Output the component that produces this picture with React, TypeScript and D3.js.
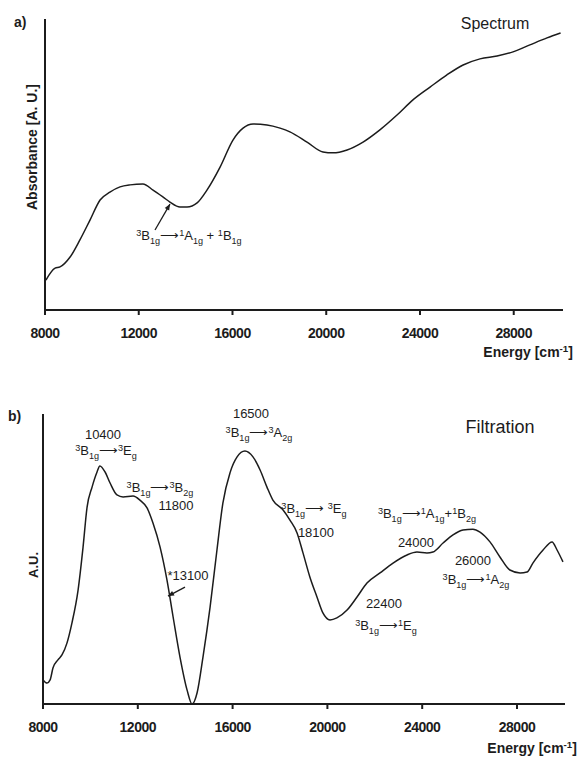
import React from 'react'
import * as d3 from 'd3'

// panel a: spectrum
const energyA = [8040, 8430, 8640, 9070, 9490, 9920, 10350, 10770, 11200, 11630, 12180, 12610, 13040, 13330, 13760, 14060, 14490, 14910, 15470, 16020, 16450, 16880, 17470, 18030, 18450, 19180, 19860, 20290, 20890, 21570, 22290, 23020, 23700, 24430, 25150, 25840, 26560, 27290, 27970, 28690, 29420, 30000]
const absA = [10.3, 14.4, 14.8, 18.2, 24.1, 30.9, 37.8, 40.5, 42.3, 43.0, 43.3, 41.2, 38.8, 37.1, 35.4, 35.4, 36.8, 41.2, 49.1, 58.4, 62.5, 63.9, 63.6, 62.5, 61.2, 57.7, 54.3, 54.0, 55.0, 57.7, 61.9, 67.0, 72.2, 76.6, 80.8, 84.2, 86.3, 87.3, 88.7, 91.1, 93.5, 95.2]

// panel b: filtration
const energyB = [8000, 8170, 8300, 8420, 8630, 8800, 9010, 9220, 9480, 9690, 9860, 10070, 10280, 10400, 10620, 10830, 11120, 11380, 11800, 12090, 12390, 12640, 12940, 13230, 13490, 13780, 14080, 14290, 14500, 14750, 15050, 15340, 15590, 15890, 16190, 16520, 16860, 17160, 17450, 17700, 18130, 18420, 18720, 18970, 19260, 19560, 19810, 20110, 20400, 20830, 21250, 21670, 22220, 22770, 23360, 23780, 24200, 24450, 24880, 25300, 25720, 26140, 26440, 26860, 27280, 27700, 28130, 28420, 28670, 29100, 29480, 29690, 29940]
const absB = [8.3, 7.2, 8.3, 12.4, 15.2, 16.9, 21.0, 27.9, 39.3, 54.1, 67.9, 74.8, 80.0, 82.1, 80.0, 76.2, 72.1, 71.4, 71.7, 70.3, 67.6, 62.4, 54.1, 42.8, 30.0, 16.2, 4.8, 0, 3.8, 16.2, 33.4, 53.1, 69.3, 79.7, 85.2, 87.2, 85.2, 80.7, 74.8, 70.3, 66.9, 63.4, 59.0, 52.1, 43.8, 36.9, 31.4, 29.0, 29.7, 32.4, 36.9, 41.7, 45.2, 48.6, 51.4, 52.4, 52.1, 52.4, 55.5, 58.3, 60.0, 60.3, 59.3, 55.9, 50.7, 46.2, 45.2, 45.5, 48.6, 53.1, 55.9, 53.1, 49.0]

const xTicks = [8000, 12000, 16000, 20000, 24000, 28000]

// annotations: text, energy, value (^{} = superscript, _{} = subscript)
const notesA = [
  { text: 'Spectrum', e: 27200, v: 96.6, size: 16 },
  { text: '^{3}B_{1g}⟶^{1}A_{1g} + ^{1}B_{1g}', e: 14144, v: 24.1, size: 13 },
]
const notesB = [
  { text: 'Filtration', e: 27281, v: 93.4, size: 18 },
  { text: '10400', e: 10531, v: 91.4, size: 13 },
  { text: '^{3}B_{1g}⟶^{3}E_{g}', e: 10658, v: 85.9, size: 13 },
  { text: '^{3}B_{1g}⟶^{3}B_{2g}', e: 12936, v: 73.1, size: 13 },
  { text: '11800', e: 13611, v: 66.9, size: 13 },
  { text: '*13100', e: 14118, v: 42.8, size: 13 },
  { text: '16500', e: 16776, v: 98.6, size: 13 },
  { text: '^{3}B_{1g}⟶^{3}A_{2g}', e: 17113, v: 92.1, size: 13 },
  { text: '^{3}B_{1g}⟶ ^{3}E_{g}', e: 19433, v: 65.9, size: 13 },
  { text: '18100', e: 19518, v: 57.6, size: 13 },
  { text: '^{3}B_{1g}⟶^{1}A_{1g}+^{1}B_{2g}', e: 24201, v: 64.1, size: 13 },
  { text: '24000', e: 23737, v: 54.1, size: 13 },
  { text: '26000', e: 26142, v: 47.9, size: 13 },
  { text: '^{3}B_{1g}⟶^{1}A_{2g}', e: 26268, v: 41.4, size: 13 },
  { text: '22400', e: 22387, v: 33.1, size: 13 },
  { text: '^{3}B_{1g}⟶^{1}E_{g}', e: 22471, v: 25.5, size: 13 },
]
const arrowA = { from: [12694, 27.5], to: [13333, 36.4] }
const arrowB = { from: [13991, 40.3], to: [13274, 37.2] }

const FONT = '"Liberation Sans", Arial, sans-serif'
const INK = '#1c1c1c'

function Rich({ x, y, text, size, anchor = 'middle', weight = 'normal' }: any) {
  const parts: { t: string; k: string }[] = []
  const re = /(\^\{[^}]*\}|_\{[^}]*\}|[^^_]+)/g
  let m
  while ((m = re.exec(text))) {
    const s = m[0]
    if (s.startsWith('^{')) parts.push({ t: s.slice(2, -1), k: 'sup' })
    else if (s.startsWith('_{')) parts.push({ t: s.slice(2, -1), k: 'sub' })
    else parts.push({ t: s, k: 'n' })
  }
  let off = 0
  return (
    <text x={x} y={y} textAnchor={anchor} fontSize={size} fontFamily={FONT} fontWeight={weight} fill={INK}>
      {parts.map((p, i) => {
        const target = p.k === 'sup' ? -0.33 * size : p.k === 'sub' ? 0.3 * size : 0
        const dy = target - off
        off = target
        return (
          <tspan key={i} dy={dy} fontSize={p.k === 'n' ? size : size * 0.7}>{p.t}</tspan>
        )
      })}
    </text>
  )
}

function Panel({ energy, values, notes, arrow, x0, x1, yTop, yBottom, axisEnd, tag, tagX, tagY, yLabel, yLabelX, yLabelY, yLabelSize, energyX, energyY }: any) {
  const x = d3.scaleLinear().domain([8000, 30000]).range([x0, x1])
  const y = d3.scaleLinear().domain([0, 100]).range([yBottom, yTop])
  const line = d3.line<number>()
    .x((_, i) => x(energy[i]))
    .y(d => y(d))
    .curve(d3.curveMonotoneX)
  const ax = x(arrow.from[0]), ay = y(arrow.from[1])
  const bx = x(arrow.to[0]), by = y(arrow.to[1])
  const ang = Math.atan2(by - ay, bx - ax)
  const hl = 6, hw = 2.6
  const head = [
    [bx, by],
    [bx - hl * Math.cos(ang) + hw * Math.sin(ang), by - hl * Math.sin(ang) - hw * Math.cos(ang)],
    [bx - hl * Math.cos(ang) - hw * Math.sin(ang), by - hl * Math.sin(ang) + hw * Math.cos(ang)],
  ]
  return (
    <g>
      <text x={tagX} y={tagY} fontFamily={FONT} fontWeight="bold" fontSize={14} fill={INK}>{tag}</text>
      <line x1={x0} x2={x0} y1={yTop} y2={yBottom + 1} stroke={INK} strokeWidth={2} />
      <line x1={x0 - 1} x2={axisEnd} y1={yBottom} y2={yBottom} stroke={INK} strokeWidth={2} />
      {xTicks.map(t => (
        <g key={t}>
          <line x1={x(t)} x2={x(t)} y1={yBottom} y2={yBottom + 5} stroke={INK} strokeWidth={2} />
          <text x={x(t)} y={yBottom + 28} textAnchor="middle" fontFamily={FONT} fontWeight="bold" fontSize={14} fill={INK} letterSpacing={-0.5}>{t}</text>
        </g>
      ))}
      <text transform={`translate(${yLabelX},${yLabelY}) rotate(-90)`} textAnchor="middle" fontFamily={FONT} fontWeight="bold" fontSize={yLabelSize} fill={INK}>{yLabel}</text>
      <Rich x={energyX} y={energyY} text="Energy [cm^{-1}]" size={14} anchor="end" weight="bold" />
      <path d={line(values) || ''} fill="none" stroke={INK} strokeWidth={1.5} strokeLinejoin="round" />
      {notes.map((n: any, i: number) => (
        <Rich key={i} x={x(n.e)} y={y(n.v)} text={n.text} size={n.size} />
      ))}
      <line x1={ax} y1={ay} x2={bx} y2={by} stroke={INK} strokeWidth={1.3} />
      <polygon points={head.map(p => p.join(',')).join(' ')} fill={INK} />
    </g>
  )
}

export default function App() {
  return (
    <svg width={578} height={759} style={{ position: 'absolute', left: 0, top: 0, background: '#fff' }}>
      <rect width={578} height={759} fill="#fff" />
      <Panel energy={energyA} values={absA} notes={notesA} arrow={arrowA}
        x0={45} x1={560.6} yTop={19} yBottom={310} axisEnd={563}
        tag="a)" tagX={14} tagY={27}
        yLabel="Absorbance [A. U.]" yLabelX={37} yLabelY={147} yLabelSize={14}
        energyX={573} energyY={357} />
      <Panel energy={energyB} values={absB} notes={notesB} arrow={arrowB}
        x0={43} x1={564.4} yTop={414} yBottom={704} axisEnd={565}
        tag="b)" tagX={8} tagY={421}
        yLabel="A.U." yLabelX={38} yLabelY={565} yLabelSize={13}
        energyX={577} energyY={753} />
    </svg>
  )
}
